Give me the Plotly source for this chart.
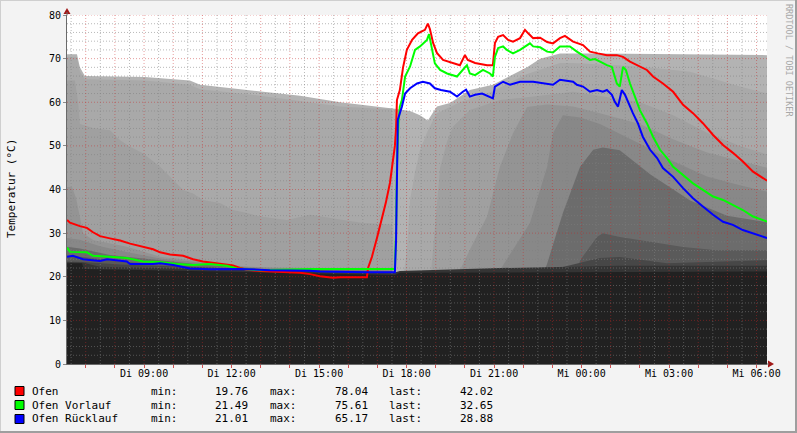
import plotly.graph_objects as go

# ---------------- data (x = hours since Tuesday 00:00; >24 = Wednesday) ----------------
T_START, T_END = 6.358, 30.358
Y_MIN, Y_MAX = 0, 80

ofen_t = [6.36, 6.46, 6.80, 7.04, 7.25, 7.49, 7.83, 8.18, 8.52, 8.96, 9.31, 9.55, 9.89, 10.34, 10.68,
          11.02, 11.60, 12.05, 12.29, 12.53, 12.97, 13.32, 13.90, 14.35, 14.69, 15.03, 15.48, 15.72,
          16.40, 16.64, 16.68, 16.81, 16.99, 17.16, 17.29, 17.43, 17.53, 17.60, 17.64, 17.67, 17.77,
          17.88, 18.01, 18.19, 18.39, 18.63, 18.73, 18.80, 18.91, 19.04, 19.25, 19.56, 19.83, 20.00,
          20.10, 20.35, 20.76, 20.96, 21.03, 21.14, 21.31, 21.48, 21.65, 21.89, 22.06, 22.17, 22.34,
          22.58, 22.82, 23.02, 23.26, 23.43, 23.71, 24.05, 24.29, 24.56, 24.87, 25.21, 25.42, 25.66,
          26.00, 26.24, 26.45, 26.79, 27.14, 27.48, 27.82, 28.16, 28.51, 28.85, 29.19, 29.53, 29.88,
          30.12, 30.36]
ofen_v = [33.0, 32.4, 31.6, 31.2, 30.2, 29.3, 28.8, 28.3, 27.6, 26.9, 26.3, 25.6, 25.1, 24.8, 24.0,
          23.5, 23.0, 22.6, 22.0, 21.6, 21.3, 21.2, 20.9, 20.9, 20.6, 20.1, 19.76, 19.9,
          19.9, 19.9, 22.0, 24.5, 29.0, 33.5, 37.0, 41.5, 46.5, 50.0, 54.0, 60.5, 62.8,
          68.0, 72.0, 74.3, 75.8, 76.6, 78.04, 76.8, 73.6, 71.3, 69.7, 69.0, 68.5, 70.8,
          69.7, 69.0, 68.5, 68.5, 73.6, 75.0, 75.4, 74.3, 73.9, 74.7, 76.6, 75.8, 74.7,
          74.8, 73.8, 73.5, 74.7, 75.2, 73.9, 73.1, 71.6, 71.2, 70.8, 70.8, 70.4, 69.3,
          68.1, 67.4, 65.9, 64.3, 62.4, 59.4, 57.5, 55.2, 52.5, 50.2, 48.4, 46.4, 44.1,
          43.0, 42.02]

vorlauf_t = [6.36, 6.46, 7.04, 7.25, 7.83, 8.41, 8.96, 9.55, 10.13, 10.68, 11.26, 11.84, 12.19, 12.97,
             14.69, 17.60, 17.64, 17.67, 17.72, 17.77, 17.84, 17.95, 18.12, 18.29, 18.46, 18.70,
             18.77, 18.87, 18.97, 19.15, 19.39, 19.73, 19.93, 20.07, 20.17, 20.35, 20.62, 20.86,
             20.96, 21.03, 21.14, 21.31, 21.44, 21.65, 21.89, 22.06, 22.23, 22.34, 22.58, 22.82,
             23.02, 23.26, 23.60, 23.84, 24.05, 24.29, 24.46, 24.63, 24.87, 25.04, 25.21, 25.31,
             25.42, 25.52, 25.66, 25.83, 26.00, 26.24, 26.45, 26.69, 26.93, 27.14, 27.48, 27.82,
             28.16, 28.51, 28.85, 29.19, 29.53, 29.88, 30.36]
vorlauf_v = [26.7, 25.7, 25.6, 24.8, 24.6, 24.3, 23.5, 23.4, 22.9, 22.7, 22.9, 22.5, 21.9, 21.49,
             21.8, 21.8, 30.5, 45.0, 55.0, 59.0, 60.5, 65.9, 68.2, 72.0, 72.8, 74.3,
             75.61, 72.4, 68.9, 67.4, 66.6, 65.9, 67.4, 68.5, 66.6, 66.2, 67.4, 66.6,
             65.9, 70.4, 72.4, 72.8, 72.0, 71.2, 72.0, 72.8, 73.5, 72.8, 72.6, 71.6,
             71.4, 72.8, 72.8, 71.6, 70.8, 69.7, 69.9, 69.3, 68.5, 68.1, 64.3, 63.6,
             68.1, 67.4, 64.3, 61.3, 58.2, 55.2, 52.1, 49.1, 47.2, 45.2, 43.3, 41.4,
             39.9, 38.4, 37.6, 36.4, 35.3, 33.8, 32.65]

ruecklauf_t = [6.36, 6.56, 6.91, 7.49, 7.73, 8.41, 8.52, 9.31, 9.55, 10.00, 10.57, 11.26, 12.29, 13.32,
               14.69, 15.03, 16.64, 17.60, 17.64, 17.67, 17.70, 17.84, 17.95, 18.12, 18.36, 18.56,
               18.80, 18.97, 19.18, 19.49, 19.73, 19.93, 20.04, 20.17, 20.35, 20.59, 20.86, 20.96,
               21.03, 21.31, 21.55, 21.89, 22.34, 22.82, 23.02, 23.26, 23.71, 23.84, 24.05, 24.29,
               24.53, 24.73, 24.87, 25.04, 25.14, 25.25, 25.38, 25.49, 25.59, 25.76, 25.93, 26.10,
               26.35, 26.59, 26.79, 27.14, 27.48, 27.82, 28.16, 28.51, 28.85, 29.19, 29.53, 29.88,
               30.36]
ruecklauf_v = [24.6, 24.8, 24.0, 23.6, 24.0, 23.5, 22.9, 22.9, 23.1, 22.7, 21.9, 21.7, 21.8, 21.5,
               21.4, 21.2, 21.01, 21.01, 28.4, 49.8, 56.0, 59.0, 62.0, 63.2, 64.3, 64.7,
               64.3, 63.2, 62.8, 62.4, 61.3, 62.4, 62.9, 61.3, 61.7, 62.0, 61.3, 60.9,
               63.6, 64.7, 64.0, 64.7, 64.7, 64.2, 64.0, 65.17, 64.7, 64.0, 63.6, 62.4,
               62.8, 62.4, 62.8, 61.7, 60.1, 59.0, 62.8, 61.7, 60.1, 57.5, 55.2, 52.1,
               49.1, 47.2, 44.9, 42.9, 40.3, 38.0, 36.1, 34.2, 32.6, 31.9, 30.7, 30.0,
               28.88]

# storage tank sensor layers (top sensor first, lightest)
l0_t = [6.36, 6.70, 6.80, 6.97, 9.03, 10.57, 10.92, 12.29, 12.97, 14.35, 15.72, 17.09, 17.60, 18.12,
        18.46, 18.73, 18.91, 19.04, 19.49, 19.83, 20.17, 20.96, 21.55, 22.13, 22.58, 23.26, 24.63, 30.36]
l0_v = [71, 71, 68, 66, 65.8, 65, 64, 63, 62.5, 61.5, 60, 59, 58.5, 58,
        57, 55.8, 57.5, 59, 59.8, 61.3, 62.8, 64, 66, 68, 70, 71.2, 71.2, 70.8]

l1_t = [6.36, 6.70, 6.80, 6.97, 9.03, 10.57, 10.92, 12.29, 12.97, 14.35, 15.72, 17.09, 17.50, 17.57,
        17.88, 17.91, 18.01, 18.12, 18.29, 18.46, 18.73, 19.04, 19.83, 20.96, 22.13, 23.26, 23.71,
        26.00, 27.72, 29.43, 30.36]
l1_v = [70.3, 70.3, 67, 65.3, 65, 64, 63, 62, 61.5, 60.3, 59, 58.5, 58.5, 20,
        20, 21, 26, 37.6, 44, 49, 53.5, 57.5, 60, 62.5, 66.5, 69, 69,
        68.2, 67, 63.6, 62]

l2_t = [6.36, 6.63, 6.74, 6.80, 7.25, 7.83, 8.18, 8.52, 8.96, 9.55, 10.00, 10.34, 10.68, 11.02, 11.60,
        12.05, 12.53, 12.97, 13.90, 14.69, 16.50, 17.50, 17.57, 18.80, 18.84, 18.91, 19.01, 19.15,
        19.39, 19.59, 20.17, 21.20, 22.58, 23.71, 26.00, 27.14, 28.30, 29.43, 30.36]
l2_v = [65, 65, 60, 55, 54.1, 53.6, 51.3, 49.8, 48.3, 45.2, 42.2, 39.9, 39.1, 37.6, 36.9,
        35.3, 34.6, 33.8, 33.0, 34.2, 32.3, 32, 20, 20, 21, 26, 35, 45,
        51, 54.4, 58.2, 60.5, 61.5, 62.4, 60, 57, 53, 50, 48]

l3_t = [6.36, 6.53, 6.67, 6.80, 6.91, 7.25, 8.41, 9.55, 10.68, 11.84, 12.97, 17.50, 17.57, 19.76,
        19.83, 20.28, 20.76, 21.20, 21.65, 22.13, 22.82, 23.71, 24.63, 26.00, 27.14, 28.30, 29.43, 30.36]
l3_v = [40.6, 40.6, 38, 34, 30, 28.4, 26.9, 24.6, 23.8, 22.7, 22.2, 21.8, 19, 19,
        21.5, 27.7, 33.8, 45.2, 52.9, 58.9, 59.5, 59, 57.5, 55, 51.5, 48.5, 46.5, 45]

l4_t = [6.36, 6.80, 7.49, 8.52, 9.55, 10.92, 12.29, 14.35, 17.50, 17.57, 21.10, 21.20, 22.23, 22.82,
        23.02, 23.36, 23.95, 24.63, 26.00, 27.14, 28.30, 29.43, 30.36]
l4_v = [28.9, 28.5, 27, 25.5, 24.2, 23.2, 22.3, 21.8, 21.5, 19, 19, 21.5, 32.3, 45.2,
        52.9, 57, 56.5, 55, 50.5, 46.5, 43, 41, 39.5]

l5_t = [6.36, 6.80, 7.83, 9.20, 10.92, 12.97, 17.50, 17.57, 22.58, 22.82, 23.36, 23.95, 24.40, 24.73,
        25.31, 26.35, 27.72, 28.99, 30.36]
l5_v = [26.9, 26.5, 25, 24, 22.8, 21.8, 21.3, 19, 19, 23, 34.6, 45.2, 49.1, 49.6,
        49, 43.5, 37.5, 34, 32.5]

l6_t = [6.36, 6.91, 8.18, 10.92, 14.35, 17.50, 17.57, 23.78, 23.95, 24.53, 24.73, 25.31, 26.35, 27.48,
        28.64, 30.36]
l6_v = [24.8, 24.5, 23.5, 22.2, 21.5, 21, 19, 19, 23.8, 29.1, 30, 29.1, 28, 26.8,
        26.1, 26.1]

l7_t = [6.36, 6.91, 8.18, 12.63, 17.50, 17.57, 22.58, 24.63, 25.31, 26.93, 30.36]
l7_v = [23.5, 23.4, 22.8, 21.8, 21, 20.5, 21, 24.3, 24.5, 23.1, 23.8]

l8_t = [6.36, 6.91, 7.49, 12.63, 17.50, 17.77, 21.20, 25.31, 30.36]
l8_v = [23.3, 23.2, 22.3, 21.5, 20.8, 21.3, 22, 22.5, 22.5]

l9_t = [6.36, 6.87, 6.94, 9.20, 12.63, 15.03, 17.60, 17.77, 21.20, 24.63, 30.36]
l9_v = [23.1, 23.1, 21.8, 21.5, 21.0, 20.6, 20.4, 20.9, 21.0, 21.2, 21.2]

layer_colors = ["#b3b3b3", "#a9a9a9", "#a0a0a0", "#949494", "#888888",
                "#6c6c6c", "#5a5a5a", "#474747", "#343434", "#212121"]

hour_ticks = list(range(7, 31))
label_hours = [9, 12, 15, 18, 21, 24, 27, 30]
label_text = ["Di 09:00", "Di 12:00", "Di 15:00", "Di 18:00", "Di 21:00",
              "Mi 00:00", "Mi 03:00", "Mi 06:00"]
y_ticks = [0, 10, 20, 30, 40, 50, 60, 70, 80]

legend_names = ["Ofen", "Ofen Vorlauf", "Ofen Rücklauf"]
legend_colors = ["#ff0000", "#00ff00", "#0000ff"]
legend_min = ["19.76", "21.49", "21.01"]
legend_max = ["78.04", "75.61", "65.17"]
legend_last = ["42.02", "32.65", "28.88"]

# ---------------- figure ----------------
W, H = 797, 433
ML, MR, MT, MB = 67, 30, 15, 69
PW, PH = W - ML - MR, H - MT - MB
MONO = "DejaVu Sans Mono"


def px(x):
    return (x - ML) / PW


def py(y):
    return (H - MB - y) / PH


fig = go.Figure()

layers = [(l0_t, l0_v), (l1_t, l1_v), (l2_t, l2_v), (l3_t, l3_v), (l4_t, l4_v),
          (l5_t, l5_v), (l6_t, l6_v), (l7_t, l7_v), (l8_t, l8_v), (l9_t, l9_v)]
for (t, v), c in zip(layers, layer_colors):
    fig.add_trace(go.Scatter(x=t, y=v, mode="lines", line=dict(width=0), fill="tozeroy",
                             fillcolor=c, hoverinfo="skip"))

# grid drawn above the areas, below the lines (as rrdtool does)
minor_x = [h + 0.5 for h in range(6, 30)]
major_x = hour_ticks
minor_y = [v for v in range(2, 80, 2) if v % 10]
major_y = y_ticks[1:]


def vlines(xs):
    xx, yy = [], []
    for x in xs:
        xx += [x, x, None]
        yy += [Y_MIN, Y_MAX, None]
    return xx, yy


def hlines(ys):
    xx, yy = [], []
    for y in ys:
        xx += [T_START, T_END, None]
        yy += [y, y, None]
    return xx, yy


GRID = "rgba(128,128,128,0.55)"
MGRID = "rgba(200,40,40,0.45)"
for fn, vals, col in [(vlines, minor_x, GRID), (hlines, minor_y, GRID),
                      (vlines, major_x, MGRID), (hlines, major_y, MGRID)]:
    gx, gy = fn(vals)
    fig.add_trace(go.Scatter(x=gx, y=gy, mode="lines", line=dict(color=col, width=1, dash="1px,2px"),
                             hoverinfo="skip", connectgaps=False))

for t, v, c in [(ofen_t, ofen_v, legend_colors[0]), (vorlauf_t, vorlauf_v, legend_colors[1]),
                (ruecklauf_t, ruecklauf_v, legend_colors[2])]:
    fig.add_trace(go.Scatter(x=t, y=v, mode="lines", line=dict(color=c, width=2), hoverinfo="skip"))

ticktext = [label_text[label_hours.index(h)] if h in label_hours else "" for h in hour_ticks]

fig.update_layout(
    width=W, height=H, margin=dict(l=ML, r=MR, t=MT, b=MB, pad=0, autoexpand=False),
    paper_bgcolor="#f3f3f3", plot_bgcolor="#ffffff", showlegend=False,
    font=dict(family=MONO, size=10, color="#000000"),
    xaxis=dict(range=[T_START, T_END], tickmode="array", tickvals=hour_ticks, ticktext=ticktext,
               showgrid=False, zeroline=False, showline=True, linecolor="#6a6a6a", linewidth=1,
               ticks="outside", ticklen=3, tickcolor="rgba(200,40,40,0.8)", tickwidth=1,
               ticklabelstandoff=-3,
               tickfont=dict(family=MONO, size=10, color="#000000"), fixedrange=True,
               automargin=False),
    yaxis=dict(range=[Y_MIN, Y_MAX], tickmode="array", tickvals=y_ticks,
               showgrid=False, zeroline=False, showline=True, linecolor="#6a6a6a", linewidth=1,
               ticks="outside", ticklen=3, tickcolor="#8a8a8a",
               tickfont=dict(family=MONO, size=10, color="#000000"), fixedrange=True,
               automargin=False),
)

shapes = []
# axis arrows
shapes.append(dict(type="path", xref="paper", yref="paper",
                   path=f"M {px(67)},{py(8)} L {px(63.5)},{py(14)} L {px(70.5)},{py(14)} Z",
                   fillcolor="#a01818", line=dict(width=0)))
shapes.append(dict(type="line", xref="paper", yref="paper", x0=px(67), x1=px(67), y0=1, y1=py(12),
                   line=dict(color="#6a6a6a", width=1)))
shapes.append(dict(type="path", xref="paper", yref="paper",
                   path=f"M {px(774)},{py(364)} L {px(768)},{py(360.5)} L {px(768)},{py(367.5)} Z",
                   fillcolor="#a01818", line=dict(width=0)))
shapes.append(dict(type="line", xref="paper", yref="paper", x0=1, x1=px(769), y0=0, y1=0,
                   line=dict(color="#6a6a6a", width=1)))
# frame
shapes.append(dict(type="line", xref="paper", yref="paper", x0=px(0), x1=px(W), y0=py(0), y1=py(0),
                   line=dict(color="#cfcfcf", width=2)))
shapes.append(dict(type="line", xref="paper", yref="paper", x0=px(0), x1=px(0), y0=py(0), y1=py(H),
                   line=dict(color="#cfcfcf", width=2)))
shapes.append(dict(type="line", xref="paper", yref="paper", x0=px(0), x1=px(W), y0=py(H), y1=py(H),
                   line=dict(color="#9e9e9e", width=4)))
shapes.append(dict(type="line", xref="paper", yref="paper", x0=px(W), x1=px(W), y0=py(0), y1=py(H),
                   line=dict(color="#9e9e9e", width=4)))

annotations = []
annotations.append(dict(text="Temperatur (°C)", xref="paper", yref="paper", x=px(11), y=py(189),
                        textangle=-90, showarrow=False, xanchor="center", yanchor="middle",
                        font=dict(family=MONO, size=11, color="#000000")))
annotations.append(dict(text="RRDTOOL / TOBI OETIKER", xref="paper", yref="paper", x=px(789), y=py(60),
                        textangle=90, showarrow=False, xanchor="center", yanchor="middle",
                        font=dict(family=MONO, size=8.5, color="#a8a8a8")))

CW = 6.62
for i, name in enumerate(legend_names):
    yc = 391 + 14 * i
    shapes.append(dict(type="rect", xref="paper", yref="paper", x0=px(15), x1=px(24),
                       y0=py(yc - 4.5), y1=py(yc + 4.5), fillcolor=legend_colors[i],
                       line=dict(color="#000000", width=1)))
    items = [(name, 31, "left"), ("min:", 31 + 18 * CW, "left"), (legend_min[i], 31 + 33 * CW, "right"),
             ("max:", 31 + 36 * CW, "left"), (legend_max[i], 31 + 51 * CW, "right"),
             ("last:", 31 + 54 * CW, "left"), (legend_last[i], 31 + 70 * CW, "right")]
    for txt, xp, anc in items:
        annotations.append(dict(text=txt, xref="paper", yref="paper", x=px(xp), y=py(yc),
                                showarrow=False, xanchor=anc, yanchor="middle", borderpad=0,
                                font=dict(family=MONO, size=11, color="#000000")))

fig.update_layout(shapes=shapes, annotations=annotations)
fig.write_html("out.html", config={"displayModeBar": False, "staticPlot": True},
               post_script="document.body.style.margin='0';document.body.style.padding='0';"
                           "document.documentElement.style.overflow='hidden';")
